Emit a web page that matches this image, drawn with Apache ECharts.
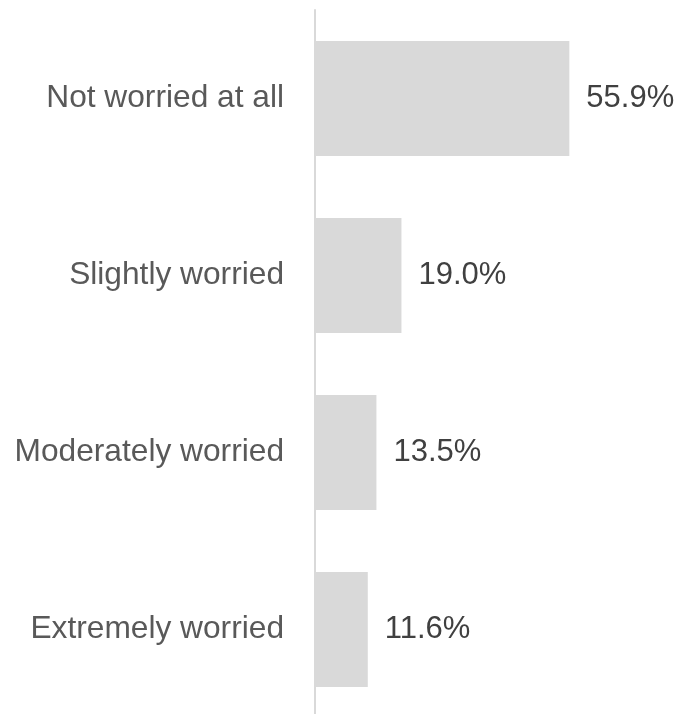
<!DOCTYPE html>
<html>
<head>
<meta charset="utf-8">
<style>
  html, body { margin: 0; padding: 0; background: #ffffff; }
  #chart { width: 680px; height: 714px; }
</style>
<script src="https://cdn.jsdelivr.net/npm/echarts@6/dist/echarts.min.js"></script>
</head>
<body>
<div id="chart"></div>
<script>
// Worry levels, listed top to bottom
const categories = ['Not worried at all', 'Slightly worried', 'Moderately worried', 'Extremely worried'];
// Share of respondents (%)
const shares = [55.9, 19.0, 13.5, 11.6];

const chart = echarts.init(document.getElementById('chart'), null, { renderer: 'canvas' });

chart.setOption({
  animation: false,
  backgroundColor: '#ffffff',
  grid: {
    left: 315, width: 273, top: 10, height: 708,
    containLabel: false,
    outerBoundsMode: 'none'
  },
  xAxis: {
    type: 'value',
    min: 0,
    max: 60,
    show: false
  },
  yAxis: {
    type: 'category',
    data: categories,
    inverse: true,
    axisLine: { show: true, lineStyle: { color: '#d9d9d9', width: 2 } },
    axisTick: { show: false },
    axisLabel: {
      margin: 31,
      color: '#595959',
      fontFamily: '"Liberation Sans", Arial, sans-serif',
      fontSize: 31.7
    },
    splitLine: { show: false }
  },
  series: [{
    type: 'bar',
    data: shares,
    barCategoryGap: '35%',
    itemStyle: { color: '#d9d9d9' },
    label: {
      show: true,
      position: 'right',
      distance: 17,
      color: '#404040',
      fontFamily: '"Liberation Sans", Arial, sans-serif',
      fontSize: 31,
      formatter: p => p.value.toFixed(1) + '%'
    }
  }]
});
</script>
</body>
</html>
